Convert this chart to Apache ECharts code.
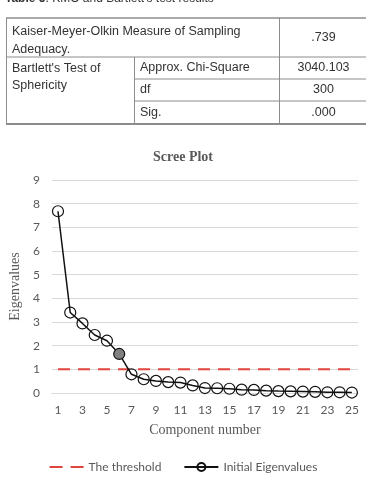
<!DOCTYPE html>
<html>
<head>
<meta charset="utf-8">
<script src="https://cdn.jsdelivr.net/npm/echarts@6/dist/echarts.min.js"></script>
<style>
html,body{margin:0;padding:0;background:#fff;}
#main{width:366px;height:485px;}
</style>
</head>
<body>
<div id="main"></div>
<script>
var components = ["1","2","3","4","5","6","7","8","9","10","11","12","13","14","15","16","17","18","19","20","21","22","23","24","25"];
var eigenvalues = [7.68,3.40,2.94,2.45,2.21,1.65,0.79,0.58,0.51,0.46,0.44,0.32,0.21,0.20,0.18,0.14,0.13,0.10,0.08,0.07,0.06,0.05,0.03,0.03,0.02];
var threshold = [1,1,1,1,1,1,1,1,1,1,1,1,1,1,1,1,1,1,1,1,1,1,1,1,1];
var yTicks = [0,1,2,3,4,5,6,7,8,9];
var tableRows = [
    ["Kaiser-Meyer-Olkin Measure of Sampling\nAdequacy.", "", ".739"],
    ["Bartlett's Test of\nSphericity", "Approx. Chi-Square", "3040.103"],
    ["", "df", "300"],
    ["", "Sig.", ".000"]
];

window.onload = function () {
    var myChart = echarts.init(document.getElementById("main"));

    // table drawn with graphic elements
    var rowY = [18, 57, 79, 101, 124];
    var colX = [6, 134, 279, 366];
    var g = [];
    var lineC = "#8c8c8c";
    function hline(x1, x2, y, w) {
        g.push({type: "line", shape: {x1: x1, y1: y, x2: x2, y2: y}, style: {stroke: lineC, lineWidth: w || 1}});
    }
    function vline(x, y1, y2) {
        g.push({type: "line", shape: {x1: x, y1: y1, x2: x, y2: y2}, style: {stroke: lineC, lineWidth: 1}});
    }
    hline(colX[0], colX[3], rowY[0], 1.5);
    hline(colX[0], colX[3], rowY[1]);
    hline(colX[1], colX[3], rowY[2]);
    hline(colX[1], colX[3], rowY[3]);
    hline(colX[0], colX[3], rowY[4], 2);
    vline(colX[0] + 0.5, rowY[0], rowY[4]);
    vline(colX[1] + 0.5, rowY[1], rowY[4]);
    vline(colX[2] + 0.5, rowY[0], rowY[4]);
    var tf = "Liberation Sans, Arial, sans-serif";
    g.push({type: "text", x: 12, y: 23, style: {text: tableRows[0][0], font: "12.5px " + tf, fill: "#333", lineHeight: 18}});
    g.push({type: "text", x: 12, y: 60, style: {text: tableRows[1][0], font: "12.5px " + tf, fill: "#333", lineHeight: 17}});
    for (var i = 1; i < 4; i++) {
        g.push({type: "text", x: 140, y: (rowY[i] + rowY[i + 1]) / 2, style: {text: tableRows[i][1], font: "12.5px " + tf, fill: "#333", verticalAlign: "middle"}});
    }
    for (var j = 0; j < 4; j++) {
        g.push({type: "text", x: (colX[2] + colX[3]) / 2 + 1, y: (rowY[j] + rowY[j + 1]) / 2, style: {text: tableRows[j][2], font: "12.5px " + tf, fill: "#333", align: "center", verticalAlign: "middle"}});
    }
    g.push({type: "text", x: 5, y: -1, style: {text: "{b|Table 5}. KMO and Bartlett's test results", font: "12px " + tf, fill: "#333", verticalAlign: "middle",
        rich: {b: {fontWeight: "bold", fontSize: 12, fontFamily: tf, fill: "#333"}}}});

    var eigenData = eigenvalues.map(function (v, k) {
        if (k === 5) return {value: v, itemStyle: {color: "#808080"}};
        return v;
    });

    var option = {
        animation: false,
        title: {
            text: "Scree Plot", left: "center", top: 145,
            textStyle: {fontFamily: "Liberation Serif, Times New Roman, serif", fontSize: 14, fontWeight: "bold", color: "#595959"}
        },
        legend: {
            bottom: 7, left: "center", itemGap: 22, itemWidth: 34, itemHeight: 10,
            textStyle: {fontFamily: "Lato, sans-serif", fontSize: 12, color: "#595959"},
            data: [
                {name: "The threshold", itemStyle: {opacity: 0}, lineStyle: {type: [13, 8], width: 2}},
                {name: "Initial Eigenvalues"}
            ]
        },
        grid: {left: 49, right: 8, top: 180, bottom: 92, containLabel: false},
        xAxis: {
            type: "category", data: components, boundaryGap: true,
            name: "Component number", nameLocation: "middle", nameGap: 30,
            nameTextStyle: {fontFamily: "Liberation Serif, Times New Roman, serif", fontSize: 14, color: "#595959"},
            axisLine: {lineStyle: {color: "#d9d9d9"}},
            axisTick: {show: false},
            axisLabel: {interval: 1, margin: 11, fontFamily: "Lato, sans-serif", fontSize: 12, color: "#595959"}
        },
        yAxis: {
            type: "value", min: yTicks[0], max: yTicks[yTicks.length - 1], interval: 1,
            name: "Eigenvalues", nameLocation: "middle", nameGap: 19,
            nameTextStyle: {fontFamily: "Liberation Serif, Times New Roman, serif", fontSize: 14, color: "#595959"},
            axisLine: {show: false}, axisTick: {show: false},
            splitLine: {lineStyle: {color: "#d9d9d9"}},
            axisLabel: {margin: 12, fontFamily: "Lato, sans-serif", fontSize: 12, color: "#595959"}
        },
        series: [
            {
                name: "The threshold", type: "line", data: threshold, symbol: "none",
                lineStyle: {color: "#e0463c", width: 2, type: [12, 8]},
                itemStyle: {color: "#e0463c"}
            },
            {
                name: "Initial Eigenvalues", type: "line", data: eigenData,
                symbol: "circle", symbolSize: 11, showAllSymbol: true,
                lineStyle: {color: "#111", width: 1.5},
                itemStyle: {color: "rgba(255,255,255,0)", borderColor: "#111", borderWidth: 1.2}
            }
        ],
        graphic: g
    };
    myChart.setOption(option);
};
</script>
</body>
</html>
